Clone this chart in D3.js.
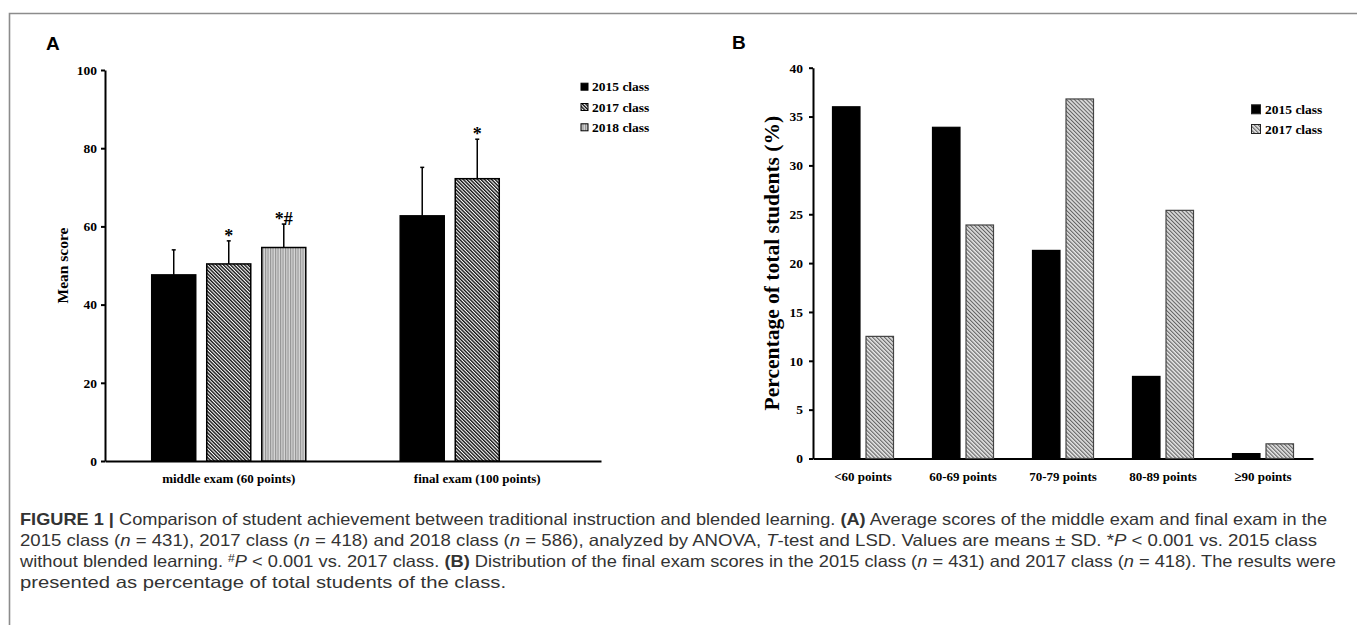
<!DOCTYPE html>
<html>
<head>
<meta charset="utf-8">
<script src="https://cdn.jsdelivr.net/npm/d3@7"></script>
<style>
  html, body { margin: 0; padding: 0; background: #fff; }
  svg { display: block; }
  .serif { font-family: "Liberation Serif", "Times New Roman", serif; font-weight: bold; }
  .cap { font-family: "Liberation Sans", Arial, sans-serif; fill: #333; }
</style>
</head>
<body>
<div id="fig"></div>
<script>
// panel A data
var examCats = ["middle exam (60 points)", "final exam (100 points)"];
var classesA = ["2015 class", "2017 class", "2018 class"];
var meanScores = [[47.6, 50.4, 54.6], [62.7, 72.2, null]];
var sdScores = [[6.4, 5.9, 6.0], [12.4, 10.1, null]];
var sigMarks = [["", "*", "*#"], ["", "*", ""]];
var ticksA = [0, 20, 40, 60, 80, 100];

// panel B data
var scoreBins = ["<60 points", "60-69 points", "70-79 points", "80-89 points", "\u226590 points"];
var classesB = ["2015 class", "2017 class"];
var pct2015 = [36.0, 33.9, 21.3, 8.4, 0.5];
var pct2017 = [12.5, 23.9, 36.8, 25.4, 1.5];
var ticksB = [0, 5, 10, 15, 20, 25, 30, 35, 40];

var W = 1357, H = 625;
var svg = d3.select("#fig").append("svg").attr("width", W).attr("height", H);

var defs = svg.append("defs");
// dark diagonal hatch (2017, panel A)
var p1 = defs.append("pattern").attr("id", "hatchA").attr("patternUnits", "userSpaceOnUse")
    .attr("width", 2.5).attr("height", 2.5).attr("patternTransform", "rotate(-45)");
p1.append("rect").attr("width", 2.5).attr("height", 2.5).attr("fill", "#fff");
p1.append("line").attr("x1", 0.7).attr("y1", 0).attr("x2", 0.7).attr("y2", 2.5)
    .attr("stroke", "#111").attr("stroke-width", 1.4);
// light vertical lines (2018, panel A)
var p2 = defs.append("pattern").attr("id", "vertA").attr("patternUnits", "userSpaceOnUse")
    .attr("width", 2.5).attr("height", 4);
p2.append("rect").attr("width", 2.5).attr("height", 4).attr("fill", "#d6d6d6");
p2.append("line").attr("x1", 0.6).attr("y1", 0).attr("x2", 0.6).attr("y2", 4)
    .attr("stroke", "#8a8a8a").attr("stroke-width", 1);
// lighter diagonal hatch (2017, panel B)
var p3 = defs.append("pattern").attr("id", "hatchB").attr("patternUnits", "userSpaceOnUse")
    .attr("width", 2.8).attr("height", 2.8).attr("patternTransform", "rotate(-45)");
p3.append("rect").attr("width", 2.8).attr("height", 2.8).attr("fill", "#e4e4e4");
p3.append("line").attr("x1", 0.6).attr("y1", 0).attr("x2", 0.6).attr("y2", 2.8)
    .attr("stroke", "#555").attr("stroke-width", 1);

var fillsA = ["#000", "url(#hatchA)", "url(#vertA)"];
var fillsB = ["#000", "url(#hatchB)"];

// frame
svg.append("path").attr("d", "M9.5," + H + " V13.5 H" + W)
    .attr("fill", "none").attr("stroke", "#8c8c8c").attr("stroke-width", 1.6);

// ---------- panel A ----------
var gA = svg.append("g");
gA.append("text").attr("x", 46).attr("y", 50)
    .style("font-family", "Liberation Sans, Arial, sans-serif").style("font-weight", "bold")
    .style("font-size", "19px").text("A");

var yA = d3.scaleLinear().domain([0, 100]).range([461, 70]);
var xA = d3.scaleBand().domain(examCats).range([105, 601]).paddingInner(0.38).paddingOuter(0.188);
var xA2 = d3.scaleBand().domain(classesA).range([0, xA.bandwidth()]).paddingInner(0.2);

var axA = gA.append("g").attr("transform", "translate(105,0)")
    .call(d3.axisLeft(yA).tickValues(ticksA).tickSize(4).tickSizeOuter(0).tickPadding(4));
axA.select(".domain").attr("stroke-width", 2);
axA.selectAll(".tick line").attr("stroke-width", 2);
axA.selectAll("text").attr("class", "serif").style("font-size", "13.5px").attr("fill", "#000");

var bxA = gA.append("g").attr("transform", "translate(0," + yA(0) + ")")
    .call(d3.axisBottom(xA).tickSize(0).tickPadding(13).tickSizeOuter(0));
bxA.select(".domain").attr("stroke-width", 2);
bxA.selectAll("text").attr("class", "serif").style("font-size", "13px").attr("fill", "#000");

gA.append("text").attr("class", "serif").style("font-size", "15.5px")
    .attr("transform", "translate(68," + ((yA(0) + yA(100)) / 2) + ") rotate(-90)")
    .attr("text-anchor", "middle").text("Mean score");

examCats.forEach(function(cat, ci) {
    classesA.forEach(function(cl, k) {
        var v = meanScores[ci][k];
        if (v == null) return;
        var x0 = xA(cat) + xA2(cl);
        var cx = x0 + xA2.bandwidth() / 2;
        var top = yA(v + sdScores[ci][k]);
        // error bar (upper only)
        gA.append("line").attr("x1", cx).attr("x2", cx).attr("y1", yA(v)).attr("y2", top)
            .attr("stroke", "#000").attr("stroke-width", 1.5);
        gA.append("line").attr("x1", cx - 2).attr("x2", cx + 2).attr("y1", top).attr("y2", top)
            .attr("stroke", "#000").attr("stroke-width", 1.5);
        gA.append("rect").attr("x", x0).attr("y", yA(v))
            .attr("width", xA2.bandwidth()).attr("height", yA(0) - yA(v))
            .attr("fill", fillsA[k]).attr("stroke", "#000").attr("stroke-width", 1.5);
        if (sigMarks[ci][k]) {
            gA.append("text").attr("class", "serif").attr("x", cx).attr("y", top + 1)
                .attr("text-anchor", "middle").style("font-size", "18px").attr("fill", "#000")
                .text(sigMarks[ci][k]);
        }
    });
});

// legend A
classesA.forEach(function(cl, k) {
    var yy = 86.7 + k * 20.3;
    gA.append("rect").attr("x", 581).attr("y", yy - 3.5).attr("width", 7).attr("height", 7)
        .attr("fill", fillsA[k]).attr("stroke", "#000").attr("stroke-width", 1);
    gA.append("text").attr("class", "serif").attr("x", 592).attr("y", yy + 4.5)
        .style("font-size", "13.5px").text(cl);
});

// ---------- panel B ----------
var gB = svg.append("g");
gB.append("text").attr("x", 732).attr("y", 49)
    .style("font-family", "Liberation Sans, Arial, sans-serif").style("font-weight", "bold")
    .style("font-size", "19px").text("B");

var yB = d3.scaleLinear().domain([0, 40]).range([458.5, 67.7]);
var xB = d3.scaleBand().domain(scoreBins).range([813, 1313]).paddingInner(0.39).paddingOuter(0.195);
var xB2 = d3.scaleBand().domain(classesB).range([0, xB.bandwidth()]).paddingInner(0.18);

var axB = gB.append("g").attr("transform", "translate(813,0)")
    .call(d3.axisLeft(yB).tickValues(ticksB).tickSize(4).tickSizeOuter(0).tickPadding(6));
axB.select(".domain").attr("stroke-width", 2);
axB.selectAll(".tick line").attr("stroke-width", 2);
axB.selectAll("text").attr("class", "serif").style("font-size", "13.5px").attr("fill", "#000");

var bxB = gB.append("g").attr("transform", "translate(0," + yB(0) + ")")
    .call(d3.axisBottom(xB).tickSize(0).tickPadding(13.5).tickSizeOuter(0));
bxB.select(".domain").attr("stroke-width", 2);
bxB.selectAll("text").attr("class", "serif").style("font-size", "13px").attr("fill", "#000");

gB.append("text").attr("class", "serif").style("font-size", "21.5px")
    .attr("transform", "translate(779," + ((yB(0) + yB(40)) / 2) + ") rotate(-90)")
    .attr("text-anchor", "middle").text("Percentage of total students (%)");

[pct2015, pct2017].forEach(function(series, k) {
    gB.append("g").selectAll("rect").data(series).enter().append("rect")
        .attr("x", function(d, i) { return xB(scoreBins[i]) + xB2(classesB[k]); })
        .attr("y", function(d) { return yB(d); })
        .attr("width", xB2.bandwidth())
        .attr("height", function(d) { return yB(0) - yB(d); })
        .attr("fill", fillsB[k]).attr("stroke", k ? "#444" : "#000").attr("stroke-width", 1.2);
});

classesB.forEach(function(cl, k) {
    var yy = 109.3 + k * 19.7;
    gB.append("rect").attr("x", 1251.5).attr("y", yy - 4.5).attr("width", 9).attr("height", 9)
        .attr("fill", fillsB[k]).attr("stroke", "#222").attr("stroke-width", 1);
    gB.append("text").attr("class", "serif").attr("x", 1265).attr("y", yy + 4.5)
        .style("font-size", "13.5px").text(cl);
});

// ---------- caption ----------
var capLines = [
    { w: 1307, parts: [["FIGURE 1 |", "b"], [" Comparison of student achievement between traditional instruction and blended learning. "], ["(A)", "b"], [" Average scores of the middle exam and final exam in the"]] },
    { w: 1297, parts: [["2015 class ("], ["n", "i"], [" = 431), 2017 class ("], ["n", "i"], [" = 418) and 2018 class ("], ["n", "i"], [" = 586), analyzed by ANOVA, "], ["T", "i"], ["-test and LSD. Values are means \u00b1 SD. *"], ["P", "i"], [" < 0.001 vs. 2015 class"]] },
    { w: 1316, parts: [["without blended learning. "], ["#", "s"], ["P", "i"], [" < 0.001 vs. 2017 class. "], ["(B)", "b"], [" Distribution of the final exam scores in the 2015 class ("], ["n", "i"], [" = 431) and 2017 class ("], ["n", "i"], [" = 418). The results were"]] },
    { w: 486, parts: [["presented as percentage of total students of the class."]] }
];
capLines.forEach(function(line, li) {
    var t = svg.append("text").attr("class", "cap").attr("x", 20).attr("y", 524.5 + li * 21.3)
        .style("font-size", "16.5px")
        .attr("textLength", line.w).attr("lengthAdjust", "spacingAndGlyphs");
    line.parts.forEach(function(p, pi) {
        var ts = t.append("tspan").text(p[0]);
        if (p[1] === "b") ts.style("font-weight", "bold");
        if (p[1] === "i") ts.style("font-style", "italic");
        if (p[1] === "s") ts.style("font-size", "11px").attr("dy", -5);
        if (p[1] !== "s" && pi > 0 && line.parts[pi - 1][1] === "s") ts.attr("dy", 5);
    });
});
</script>
</body>
</html>
